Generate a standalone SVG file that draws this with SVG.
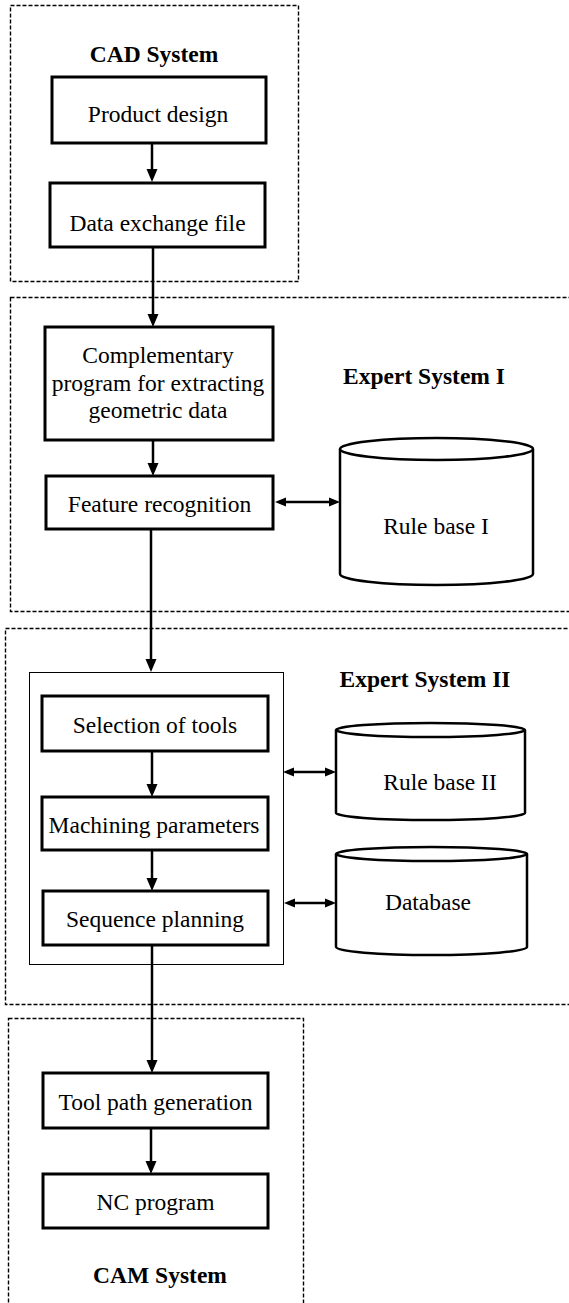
<svg xmlns="http://www.w3.org/2000/svg" width="569" height="1303" viewBox="0 0 569 1303">
<style>
.grp{fill:none;stroke:#000;stroke-width:1.4;stroke-dasharray:4 2}
.box{fill:#fff;stroke:#000;stroke-width:3}
.inner{fill:#fff;stroke:#000;stroke-width:1}
.cyl{fill:#fff;stroke:#000;stroke-width:2.5}
.t{font-family:"Liberation Serif","Times New Roman",serif;font-size:23.5px;fill:#000;text-anchor:middle}
.b{font-weight:bold}
.c{fill:none;stroke:#000;stroke-width:2.5}
</style>
<defs>
<marker id="ah" markerUnits="userSpaceOnUse" markerWidth="13" markerHeight="12" refX="9" refY="6" orient="auto-start-reverse">
<path d="M0,0.5 L13,6 L0,11.5 z" fill="#000"/>
</marker>
<marker id="ahs" markerUnits="userSpaceOnUse" markerWidth="11" markerHeight="10" refX="7" refY="5" orient="auto-start-reverse">
<path d="M0,0.5 L11,5 L0,9.5 z" fill="#000"/>
</marker>
</defs>

<g id="groups">
<rect id="cad-system" class="grp" x="10.5" y="5.5" width="288" height="276"/>
<rect id="expert-system-1" class="grp" x="10.5" y="297.5" width="570" height="314"/>
<rect id="expert-system-2" class="grp" x="5.5" y="628.5" width="575" height="376"/>
<rect id="cam-system" class="grp" x="8.5" y="1018.5" width="295" height="300"/>
<text class="t b" x="154" y="62">CAD System</text>
<text class="t b" x="424" y="384">Expert System I</text>
<text class="t b" x="425" y="687">Expert System II</text>
<text class="t b" x="160" y="1283">CAM System</text>
</g>

<g id="inner-box">
<rect class="inner" x="29.5" y="672.5" width="254" height="292"/>
</g>

<g id="connectors">
<line class="c" x1="152" y1="143" x2="152" y2="178" marker-end="url(#ah)"/>
<line class="c" x1="153" y1="247" x2="153" y2="323" marker-end="url(#ah)"/>
<line class="c" x1="153" y1="440" x2="153" y2="472" marker-end="url(#ah)"/>
<line class="c" x1="151" y1="529" x2="151" y2="668" marker-end="url(#ah)"/>
<line class="c" x1="152" y1="751" x2="152" y2="793" marker-end="url(#ah)"/>
<line class="c" x1="152" y1="850" x2="152" y2="887" marker-end="url(#ah)"/>
<line class="c" x1="152" y1="945" x2="152" y2="1069" marker-end="url(#ah)"/>
<line class="c" x1="151" y1="1128" x2="151" y2="1170" marker-end="url(#ah)"/>
<line class="c" x1="279" y1="502" x2="336" y2="502" marker-start="url(#ahs)" marker-end="url(#ahs)"/>
<line class="c" x1="287" y1="772" x2="332" y2="772" marker-start="url(#ahs)" marker-end="url(#ahs)"/>
<line class="c" x1="288" y1="903" x2="332" y2="903" marker-start="url(#ahs)" marker-end="url(#ahs)"/>
</g>

<g id="product-design">
<rect class="box" x="52" y="77" width="214" height="66"/>
<text class="t" x="158" y="122">Product design</text>
</g>
<g id="data-exchange-file">
<rect class="box" x="50" y="183" width="215" height="64"/>
<text class="t" x="157.5" y="231">Data exchange file</text>
</g>
<g id="complementary-program">
<rect class="box" x="45" y="327" width="228" height="113"/>
<text class="t" x="158" y="363">Complementary</text>
<text class="t" x="158" y="390.5">program for extracting</text>
<text class="t" x="158" y="418">geometric data</text>
</g>
<g id="feature-recognition">
<rect class="box" x="46" y="476" width="227" height="53"/>
<text class="t" x="159.5" y="512">Feature recognition</text>
</g>
<g id="rule-base-1">
<path class="cyl" d="M340,449 V574 A96.5,11 0 0 0 533,574 V449"/>
<ellipse class="cyl" cx="436.5" cy="449" rx="96.5" ry="11"/>
<text class="t" x="436" y="534">Rule base I</text>
</g>
<g id="selection-of-tools">
<rect class="box" x="42" y="696" width="226" height="55"/>
<text class="t" x="155" y="733">Selection of tools</text>
</g>
<g id="machining-parameters">
<rect class="box" x="42" y="797" width="226" height="53"/>
<text class="t" x="154" y="833">Machining parameters</text>
</g>
<g id="sequence-planning">
<rect class="box" x="43" y="891" width="225" height="54"/>
<text class="t" x="155" y="927">Sequence planning</text>
</g>
<g id="rule-base-2">
<path class="cyl" d="M336,730 V813 A94.5,7 0 0 0 525,813 V730"/>
<ellipse class="cyl" cx="430.5" cy="730" rx="94.5" ry="7"/>
<text class="t" x="440" y="790">Rule base II</text>
</g>
<g id="database">
<path class="cyl" d="M336,854 V947 A95.5,8 0 0 0 527,947 V854"/>
<ellipse class="cyl" cx="431.5" cy="854" rx="95.5" ry="7"/>
<text class="t" x="428" y="910">Database</text>
</g>
<g id="tool-path-generation">
<rect class="box" x="43" y="1073" width="225" height="55"/>
<text class="t" x="155.5" y="1110">Tool path generation</text>
</g>
<g id="nc-program">
<rect class="box" x="43" y="1174" width="225" height="54"/>
<text class="t" x="155.5" y="1210">NC program</text>
</g>
</svg>
